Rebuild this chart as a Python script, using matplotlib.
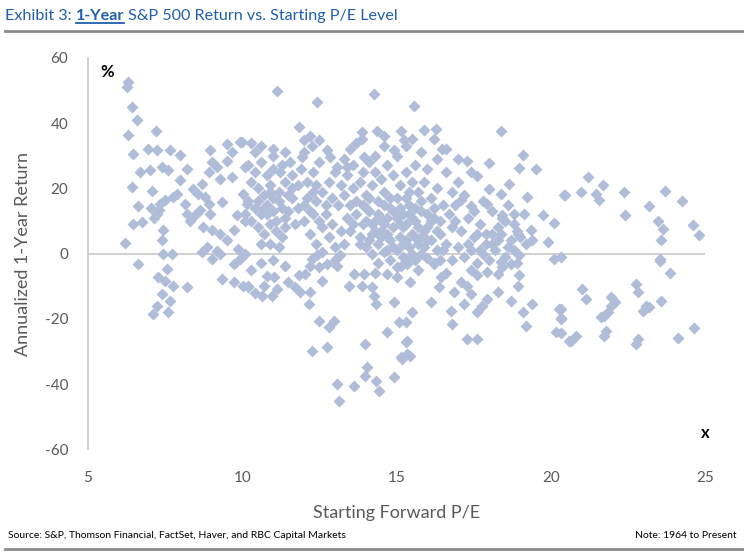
import matplotlib
matplotlib.use("Agg")
import matplotlib.pyplot as plt
from matplotlib.lines import Line2D

plt.rcParams["font.family"] = ["Lato", "DejaVu Sans"]
plt.rcParams["axes.unicode_minus"] = False

# starting forward P/E
pe = [
    6.31, 6.26, 6.42, 6.60, 6.29, 7.21, 6.47, 6.96, 7.23, 7.66, 7.99, 6.69, 7.01, 7.39, 7.61, 8.20,
    6.42, 7.07, 7.34, 7.23, 6.63, 6.47, 6.74, 6.20, 7.45, 7.39, 7.99, 7.88, 7.77, 8.15, 8.20, 8.31,
    8.47, 8.64, 8.42, 8.69, 8.58, 8.96, 9.02, 9.50, 9.94, 9.67, 9.18, 9.50, 8.91, 9.29, 9.67, 10.10,
    9.34, 8.80, 8.91, 8.96, 8.74, 9.02, 9.29, 9.72, 9.50, 8.85, 9.18, 9.83, 10.10, 10.15, 10.04, 9.88,
    10.10, 7.30, 7.15, 7.50, 7.05,
    6.63, 7.45, 7.72, 7.55, 7.28, 7.50, 7.77, 8.20, 7.39, 7.66, 7.23, 7.12, 7.61, 8.69, 9.02, 9.29,
    9.72, 9.94, 9.34, 9.72, 10.04, 10.20,
    11.13, 12.42, 14.26, 11.83, 11.99, 12.48, 12.26, 13.89, 13.89, 14.37, 15.13, 15.24, 9.99, 14.91,
    13.94, 11.94, 11.56, 11.23, 12.75, 12.86, 13.07, 13.40,
    11.40, 11.02, 10.20, 10.64, 10.96, 11.13, 11.50, 11.72, 11.88, 11.83, 12.05, 12.21, 12.26, 12.42,
    12.75, 13.07, 13.18, 12.21, 12.15, 12.59, 12.48, 12.80, 12.97, 12.26, 12.75, 13.07, 13.13, 13.61,
    13.45, 13.61, 13.94, 13.89, 14.21, 14.26, 14.32, 13.99, 14.04, 13.99, 14.32, 14.42, 14.91, 14.91,
    15.08, 14.70, 15.29, 15.13, 15.35, 14.70, 15.02, 15.13, 15.35,
    15.56, 16.27, 18.38, 16.48, 17.29, 17.99, 19.08, 18.97, 19.51, 17.62, 17.99, 18.38, 18.65, 19.24,
    20.43, 17.92, 18.43, 18.81, 19.13, 19.73, 20.11, 17.08, 17.40, 19.35, 19.40, 19.89, 18.92, 18.38,
    20.32,
    20.11, 15.45, 15.51, 15.29, 15.35, 15.45, 15.18, 16.10, 16.43, 16.38, 16.86, 17.08, 17.29, 17.40,
    17.19, 17.62, 17.78, 17.94, 17.62, 17.94, 18.27, 18.27, 16.75, 16.81, 17.29, 17.62, 18.70, 18.92,
    18.97, 19.08, 19.40, 19.19, 20.27, 20.32, 20.16, 20.59, 18.38, 18.70, 18.97, 15.35, 15.56, 16.21,
    21.21, 20.45, 20.97, 21.46, 21.68, 21.57, 22.38, 22.41, 23.19, 23.71, 24.24, 23.48, 23.62, 23.55,
    24.60, 24.78, 23.52,
    23.54, 23.87, 21.00, 21.14, 20.32, 20.32, 20.32, 20.81, 20.65, 21.95, 22.06, 21.95, 21.73, 21.84,
    21.62, 21.79, 21.73, 22.76, 22.81, 23.08, 22.98, 23.19, 23.57, 22.81, 22.76, 24.11, 24.63,
    10.2, 10.4, 10.6, 10.8, 11.0, 10.3, 10.5, 10.7, 10.9, 11.2, 11.4, 10.2, 10.4, 10.6, 10.8, 11.0,
    11.2, 11.4, 10.3, 10.5, 10.7, 10.9, 11.1, 11.3, 11.5, 10.1, 10.9, 11.2, 10.6, 11.4, 11.6, 11.6,
    11.0, 10.4, 11.3, 11.8, 11.8, 11.7, 11.9,
    12.0, 12.2, 12.4, 12.6, 12.8, 13.0, 12.1, 12.3, 12.5, 12.7, 12.9, 13.1, 13.3, 12.2, 12.4, 12.6,
    12.8, 13.0, 13.2, 13.4, 12.3, 12.9, 13.2, 13.4, 13.3, 12.1, 12.6, 13.0, 12.5, 13.3, 13.5, 13.5,
    13.6, 13.8, 14.0, 14.2, 14.4, 14.6, 14.8, 15.0, 15.2, 15.4, 15.6, 15.8, 16.0, 16.2, 16.4,
    13.7, 13.9, 14.1, 14.3, 14.5, 14.7, 14.9, 15.1, 15.3, 15.5, 15.7, 15.9, 16.1, 16.3,
    13.8, 14.0, 14.2, 14.4, 14.6, 14.8, 15.0, 15.2, 15.4, 15.6, 15.8, 16.0, 16.2,
    13.6, 13.9, 14.1, 14.3, 14.5, 14.7, 14.9, 15.1, 15.3, 15.5, 15.7, 15.9, 16.1, 16.3, 16.5,
    14.0, 14.4, 14.8, 15.2, 15.6, 16.0, 14.2, 14.6, 15.0, 15.4, 15.8, 16.4, 13.7, 14.9, 15.5, 16.2,
    14.3, 15.0, 15.6, 16.0, 14.6, 15.3, 15.8, 16.3, 16.6, 16.6, 16.8, 16.8,
    16.7, 16.9, 17.1, 17.3, 17.5, 17.7, 17.9, 18.1, 18.3, 18.5, 18.7, 18.9, 17.0, 17.2, 17.4, 17.6,
    17.8, 18.0, 18.2, 18.4, 16.9, 17.2, 17.5, 17.8, 18.1, 18.6, 18.8, 17.0, 16.8, 17.4, 18.5,
    10.3, 10.6, 11.0, 11.4, 12.0, 13.5, 13.7, 14.6, 15.5, 15.9, 16.6, 16.2, 17.0, 17.4, 12.2,
    10.3, 10.6, 10.8, 11.0, 10.4, 10.7,
    14.1, 14.3, 14.5, 14.7, 14.9, 15.1, 15.3, 15.5, 15.7, 15.9, 14.2, 14.4, 14.8, 15.0, 15.2, 15.4,
    15.6, 14.0, 14.6, 15.1, 15.3, 14.5, 14.7, 15.8, 16.1, 16.3, 16.5, 16.0, 13.9, 14.1, 13.6, 13.8,
    14.3, 15.7, 16.4, 16.6,
    10.5, 10.8, 11.0, 11.3, 11.1, 10.7, 11.5, 12.0, 12.3, 12.5, 12.7, 12.4, 10.9, 11.6,
    17.9, 18.1, 18.3, 18.6, 18.8, 19.0, 17.6, 18.4, 17.3, 17.7, 19.2, 18.9,
]

# annualized 1-year return, %
ret = [
    52.5, 51.2, 44.9, 40.8, 36.2, 37.5, 30.6, 32.1, 31.6, 31.8, 30.1, 24.9, 25.5, 26.5, 25.5, 26.0,
    20.3, 19.3, 15.2, 12.2, 14.7, 9.1, 9.6, 3.2, 7.1, 4.0, 22.4, 18.3, 17.3, 15.2, 12.2, 10.1,
    11.7, 13.2, 19.8, 21.4, 18.3, 31.6, 28.0, 33.6, 34.1, 31.1, 26.5, 28.5, 24.9, 22.9, 23.4, 26.5,
    15.7, 17.3, 15.2, 12.2, 8.1, 7.1, 6.0, 7.1, 4.0, 1.9, 0.9, 11.7, 10.1, 15.2, 18.3, 1.4,
    -0.1, 13.5, 11.0, 16.5, 14.0,
    -3.2, -0.1, -0.1, -4.7, -7.3, -8.3, -10.1, -10.3, -12.4, -14.4, -16.0, -18.5, -18.0, 0.4, -1.6, -0.1,
    -3.2, -1.6, -7.8, -8.8, -9.8, -10.3,
    49.8, 46.4, 49.0, 38.7, 34.7, 34.7, 33.1, 37.2, 35.2, 37.7, 37.7, 34.7, 34.1, 31.6,
    29.5, 29.5, 28.0, 24.9, 31.6, 29.5, 26.5, 26.5,
    -3.7, -7.3, -9.8, -12.9, -12.9, -10.8, -8.8, -10.3, -11.9, -6.7, -6.2, -3.7, -1.6, -0.6,
    -3.2, -3.7, -0.6, -11.9, -15.4, -8.3, -20.6, -22.6, -20.6, -29.8, -28.7, -40.0, -45.1, -40.5,
    -9.8, -6.2, -6.2, -9.8, -10.3, -12.9, -15.4, -27.7, -34.9, -37.4, -39.0, -42.0, -37.9, -14.9,
    -21.1, -24.1, -27.2, -31.8, -30.8, -6.2, -7.3, -3.7, -3.2,
    45.1, 38.2, 37.5, 32.1, 28.3, 27.7, 30.1, 26.3, 25.8, 23.7, 19.8, 18.3, 21.4, 17.3,
    17.8, 15.2, 11.7, 12.2, 12.2, 11.7, 9.4, 16.3, 14.7, 7.1, 4.0, 3.5, 6.0, 6.0,
    -1.1,
    -1.6, -8.8, -18.0, -21.1, -26.7, -31.3, -32.3, -14.9, -7.3, -10.3, -11.9, -8.8, -9.8, -12.4,
    -15.4, -18.0, -16.0, -13.9, -6.7, -5.7, -6.2, -11.9, -17.5, -21.6, -26.2, -26.2, -14.4, -9.8,
    -6.7, -18.0, -15.4, -22.1, -17.0, -20.0, -24.1, -26.7, -2.7, -3.2, -0.6, -2.1, -1.1, -3.2,
    23.6, 17.8, 19.0, 18.3, 20.9, 16.3, 19.0, 11.7, 14.5, 19.1, 16.0, 10.1, 7.6, 4.2,
    8.6, 5.7, -1.6,
    -2.4, -5.9, -10.8, -13.9, -16.9, -19.9, -24.5, -25.2, -26.7, -13.4, -14.9, -16.0, -19.0, -18.0,
    -19.5, -23.6, -25.2, -9.3, -11.9, -16.0, -17.5, -16.5, -14.4, -26.2, -27.7, -25.9, -22.9,
    27, 25, 28, 24, 26, 22, 20, 18, 21, 19, 22, 16, 14, 12, 15, 13,
    16, 11, 10, 8, 6, 9, 7, 5, 13, 12, 3, 2, 3, 8, 17, 24,
    30, 31, 27, 14, 21, 9, 26,
    10, 13, 16, 19, 22, 25, 22, 25, 28, 12, 9, 15, 18, 6, 3, 0.5,
    5, 2, 7, 11, 19, 17, 21, 24, 29, 17, 8, -2, -4, 3, 15, 7,
    20, 22, 18, 21, 16, 19, 14, 17, 12, 15, 10, 13, 8, 11, 6,
    12, 9, 13, 10, 7, 11, 8, 5, 9, 6, 3, 7, 4, 1,
    5, 2, 6, 3, 0.5, 4, 1, -1, 2, -2, 0, -1.5, -3,
    27, 25, 28, 25, 23, 27, 24, 21, 25, 22, 19, 22, 17, 20, 15,
    14, 12, 17, 8, 14, 12, 9, 15, 11, 19, 16, 10, 16, 2, 11, 14,
    30, 30, 27, 26, 33, 33, 31, 29, 25, 3, 8, 19,
    12, 10, 7, 11, 5, 9, 6, 3, 8, 10, 4, 7, 2, -1, 1, -3,
    0, -2, 1, -4, 15, 18, 13, 16, 13, 15, 1, 22, -2, -5, -1,
    34, 33, 32, 31, 31, 32, 34, 36, 35, 38, 32, 35, 29, 25, 36,
    -5, -3, -7, -2, -12, -10,
    4, 7, 11, 6, 13, 9, 4, 0, 8, 2, 0, -3, -2, -4, 3, 12,
    5, 10, 9, 14, 17, 5, 1, 5, 10, 7, 1, 4, 15, 17, 9, 3,
    -6, -5, -2, -6,
    16, 12, 17, 14, 10, 14, 18, 15, 12, 10, 15, 21, 19, 20,
    3, 6, 4, 2, 9, 5, 6, 11, 3, 1, 3, -3,
]

fig = plt.figure(figsize=(7.44, 5.56), dpi=100)
ax = fig.add_axes([0.118, 0.192, 0.830, 0.704])

ax.plot(pe, ret, "D", ms=6.2, color="#B0BDD9", mec="none", zorder=3)
ax.axhline(0, color="#C8C8C8", lw=1.2, zorder=1)

ax.set_xlim(5, 25)
ax.set_ylim(-60, 60)
ax.set_xticks([5, 10, 15, 20, 25])
ax.set_yticks([-60, -40, -20, 0, 20, 40, 60])
for s in ["top", "right", "bottom"]:
    ax.spines[s].set_visible(False)
ax.spines["left"].set_color("#C8C8C8")
ax.spines["left"].set_linewidth(1.2)
ax.tick_params(length=0, labelsize=11, colors="#595959", pad=14)
ax.tick_params(axis="x", pad=16)

ax.set_xlabel("Starting Forward P/E", fontsize=13, color="#595959", labelpad=14)
ax.set_ylabel("Annualized 1-Year Return", fontsize=13, color="#595959", labelpad=10)

ax.text(0.02, 0.985, "%", transform=ax.transAxes, fontsize=12, fontweight="bold", va="top")
ax.text(1.0, 0.02, "x", transform=ax.transAxes, fontsize=12, fontweight="bold", ha="center", va="bottom")

# title built in pieces, "1-Year" bold and underlined
blue = "#1F5FAE"
fig.canvas.draw()
r = fig.canvas.get_renderer()
x0 = 5 / 744
y0 = 1 - 20 / 556
parts = [("Exhibit 3: ", "normal"), ("1-Year", "bold"), (" S&P 500 Return vs. Starting P/E Level", "normal")]
for txt, w in parts:
    t = fig.text(x0, y0, txt, fontsize=11.6, color=blue, fontweight=w, va="baseline")
    bb = t.get_window_extent(r)
    if w == "bold":
        fig.add_artist(Line2D([bb.x0 / 744, bb.x1 / 744], [y0 - 3 / 556, y0 - 3 / 556], color=blue, lw=1.3))
    x0 = bb.x1 / 744

fig.add_artist(Line2D([5 / 744, 1.0], [1 - 31 / 556, 1 - 31 / 556], color="#8C8C8C", lw=2))
fig.add_artist(Line2D([5 / 744, 1.0], [1 - 549 / 556, 1 - 549 / 556], color="#8C8C8C", lw=2))

fig.text(8 / 744, 1 - 535 / 556, "Source: S&P, Thomson Financial, FactSet, Haver, and RBC Capital Markets",
         fontsize=7.5, va="center")
fig.text(737 / 744, 1 - 535 / 556, "Note: 1964 to Present", fontsize=7.5, va="center", ha="right")

fig.savefig("out.png", dpi=100)
